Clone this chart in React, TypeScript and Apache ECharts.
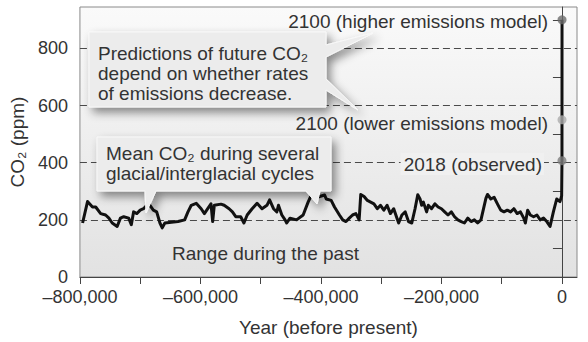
import React, { useEffect, useRef } from "react";
import * as echarts from "echarts";

const pastYears = [
  -795600, -787400, -779200, -773800, -765600, -757400, -751900, -746400, -738200, -732800,
  -727300, -719100, -714700, -710900, -705400, -700000, -694500, -689000, -685200, -678200,
  -672600, -667200, -663400, -659000, -648000, -637100, -626200, -620700, -615200, -607000,
  -598800, -593400, -587900, -582500, -579700, -577000, -566000, -560600, -552400, -546900,
  -541400, -533200, -527800, -522400, -514200, -506000, -497800, -489600, -485200, -478700,
  -473200, -470500, -464900, -459500, -456800, -451300, -440400, -429500, -421300, -415800,
  -404900, -393900, -391200, -383000, -377500, -369300, -363900, -358400, -352900, -347500,
  -342000, -336600, -333900, -328400, -322900, -317500, -312000, -306500, -301100, -295600,
  -290200, -284700, -279200, -273800, -271000, -265600, -260100, -254700, -249200, -243800,
  -239300, -235500, -232800, -230000, -224600, -221800, -216400, -210900, -205500, -200000,
  -194600, -189100, -183600, -178200, -172700, -167200, -161800, -156300, -150800, -145400,
  -139900, -134400, -126200, -123500, -118000, -112600, -107100, -101600, -96200, -90700,
  -85200, -79800, -74300, -68900, -63400, -60700, -56900, -52500, -47000, -41500,
  -36100, -30600, -25100, -19700, -14200, -8700, -3300, -500,
];
const pastCO2 = [
  189, 264, 245, 245, 222, 217, 206, 189, 177, 206,
  211, 206, 183, 228, 222, 234, 239, 251, 255, 234,
  228, 189, 172, 189, 192, 194, 200, 228, 251, 258,
  239, 222, 239, 256, 194, 251, 255, 251, 239, 228,
  211, 211, 189, 217, 239, 258, 239, 251, 270, 239,
  228, 251, 217, 200, 189, 206, 200, 217, 262, 287,
  280, 287, 273, 268, 245, 217, 200, 194, 206, 217,
  222, 200, 289, 282, 268, 262, 256, 239, 251, 234,
  251, 222, 239, 206, 189, 217, 228, 194, 189, 239,
  288, 273, 251, 262, 228, 251, 239, 256, 245, 239,
  228, 217, 228, 211, 200, 194, 189, 206, 194, 200,
  189, 200, 275, 289, 273, 279, 256, 234, 228, 234,
  228, 239, 222, 228, 206, 189, 234, 217, 211, 217,
  200, 206, 194, 177, 228, 273, 264, 284,
];
// 2018 observed and 2100 model projections (years after "present")
const futureYears = [68, 150];
const observed2018 = 407;
const lowerModel2100 = 550;
const higherModel2100 = 900;

const gridLineValues = [200, 400, 600, 800];
const yTickValues = [0, 100, 200, 300, 400, 500, 600, 700, 800, 900];
const yLabelValues = [0, 200, 400, 600, 800];
const xTickValues = [-800000, -700000, -600000, -500000, -400000, -300000, -200000, -100000, 0];
const xLabelValues = [-800000, -600000, -400000, -200000, 0];

const FONT = '"Liberation Sans", Arial, sans-serif';

export default function App() {
  const ref = useRef<HTMLDivElement>(null);
  useEffect(() => {
    document.body.style.margin = "0";
    const chart = echarts.init(ref.current!, null, { renderer: "svg" });
    const lineData: [number, number][] = pastYears.map((y, i) => [y, pastCO2[i]]);
    lineData.push([futureYears[0], observed2018]);
    lineData.push([futureYears[1], higherModel2100]);

    const fmt = (v: number) => {
      const s = Math.abs(v).toString().replace(/\B(?=(\d{3})+(?!\d))/g, ",");
      return (v < 0 ? "\u2013" : "") + s;
    };

    const calloutStyle = {
      fill: "#ececec",
      stroke: "#f8f8f8",
      lineWidth: 1,
      shadowBlur: 10,
      shadowOffsetX: 4,
      shadowOffsetY: 5,
      shadowColor: "rgba(0,0,0,0.45)",
    };

    chart.setOption({
      animation: false,
      grid: {
        left: 74,
        top: 7,
        right: 11,
        bottom: 55,
        show: true,
        borderColor: "#8a8a8a",
        borderWidth: 1,
        backgroundColor: new echarts.graphic.LinearGradient(0, 0, 0, 1, [
          { offset: 0, color: "#fafafa" },
          { offset: 1, color: "#e2e2e2" },
        ]),
      },
      xAxis: {
        type: "value",
        min: -800000,
        max: 25000,
        name: "Year (before present)",
        nameLocation: "middle",
        nameGap: 41,
        nameTextStyle: { fontFamily: FONT, fontSize: 19, color: "#333" },
        axisLine: { show: true, lineStyle: { color: "#444", width: 1 } },
        axisTick: { show: true, length: 7, lineStyle: { color: "#444" }, customValues: xTickValues },
        axisLabel: {
          customValues: xLabelValues,
          formatter: (v: number) => fmt(v),
          fontFamily: FONT,
          fontSize: 18,
          lineHeight: 18,
          color: "#333",
          margin: 11,
        },
        splitLine: { show: false },
      },
      yAxis: {
        type: "value",
        min: 0,
        max: 945,
        name: "CO\u2082 (ppm)",
        nameLocation: "middle",
        nameGap: 52,
        nameTextStyle: { fontFamily: FONT, fontSize: 19, color: "#333" },
        axisLine: { show: true, lineStyle: { color: "#444", width: 1 } },
        axisTick: { show: true, length: 9, lineStyle: { color: "#444" }, customValues: yTickValues },
        axisLabel: {
          customValues: yLabelValues,
          fontFamily: FONT,
          fontSize: 18,
          lineHeight: 16,
          color: "#333",
          margin: 12,
        },
        splitLine: { show: false },
      },
      series: [
        {
          type: "line",
          data: lineData,
          symbol: "none",
          lineStyle: { color: "#111", width: 3, join: "round" },
          z: 3,
          markLine: {
            silent: true,
            symbol: "none",
            label: { show: false },
            lineStyle: { color: "#4a4a4a", type: [7, 4], width: 1 },
            data: gridLineValues.map((v) => ({ yAxis: v })),
            z: 1,
          },
        },
        {
          type: "scatter",
          symbol: "circle",
          symbolSize: 9,
          z: 5,
          data: [
            { value: [futureYears[1], higherModel2100], itemStyle: { color: "#6b6b6b" } },
            { value: [futureYears[1], lowerModel2100], itemStyle: { color: "#ababab" } },
            { value: [futureYears[0], observed2018], itemStyle: { color: "#7d7d7d" } },
          ],
        },
      ],
      graphic: [
        {
          type: "polygon",
          z: 100,
          shape: {
            points: [
              [89, 32], [326, 32], [326, 45], [373, 33], [326, 57], [326, 79],
              [358, 110], [326, 90], [326, 107], [89, 107],
            ],
          },
          style: calloutStyle,
        },
        {
          type: "polygon",
          z: 100,
          shape: {
            points: [
              [97, 137], [331, 137], [331, 191], [320, 191], [317, 204], [306, 191],
              [156, 191], [146, 213], [145, 191], [97, 191],
            ],
          },
          style: calloutStyle,
        },
        {
          type: "text",
          z: 101,
          x: 98,
          y: 43,
          style: {
            text: "Predictions of future CO\u2082\ndepend on whether rates\nof emissions decrease.",
            font: `19px ${FONT}`,
            lineHeight: 20,
            fill: "#333",
            align: "left",
            verticalAlign: "top",
          },
        },
        {
          type: "text",
          z: 101,
          x: 106,
          y: 143,
          style: {
            text: "Mean CO\u2082 during several\nglacial/interglacial cycles",
            font: `19px ${FONT}`,
            lineHeight: 20,
            fill: "#333",
            align: "left",
            verticalAlign: "top",
          },
        },
        {
          type: "text",
          z: 101,
          x: 172,
          y: 253,
          style: {
            text: "Range during the past",
            font: `19px ${FONT}`,
            fill: "#333",
            align: "left",
            verticalAlign: "middle",
          },
        },
        {
          type: "text",
          z: 101,
          x: 548,
          y: 21,
          style: {
            text: "2100 (higher emissions model)",
            font: `19px ${FONT}`,
            fill: "#333",
            align: "right",
            verticalAlign: "middle",
          },
        },
        {
          type: "text",
          z: 101,
          x: 548,
          y: 123,
          style: {
            text: "2100 (lower emissions model)",
            font: `19px ${FONT}`,
            fill: "#333",
            align: "right",
            verticalAlign: "middle",
          },
        },
        {
          type: "text",
          z: 101,
          x: 544,
          y: 164,
          style: {
            text: "2018 (observed)",
            font: `19px ${FONT}`,
            fill: "#333",
            align: "right",
            verticalAlign: "middle",
            backgroundColor: "#f0f0f0",
            padding: [1, 2, 2, 3],
          },
        },
      ],
    });
    return () => chart.dispose();
  }, []);
  return (
    <div
      ref={ref}
      style={{ position: "absolute", left: 0, top: 0, width: 588, height: 342 }}
    />
  );
}
